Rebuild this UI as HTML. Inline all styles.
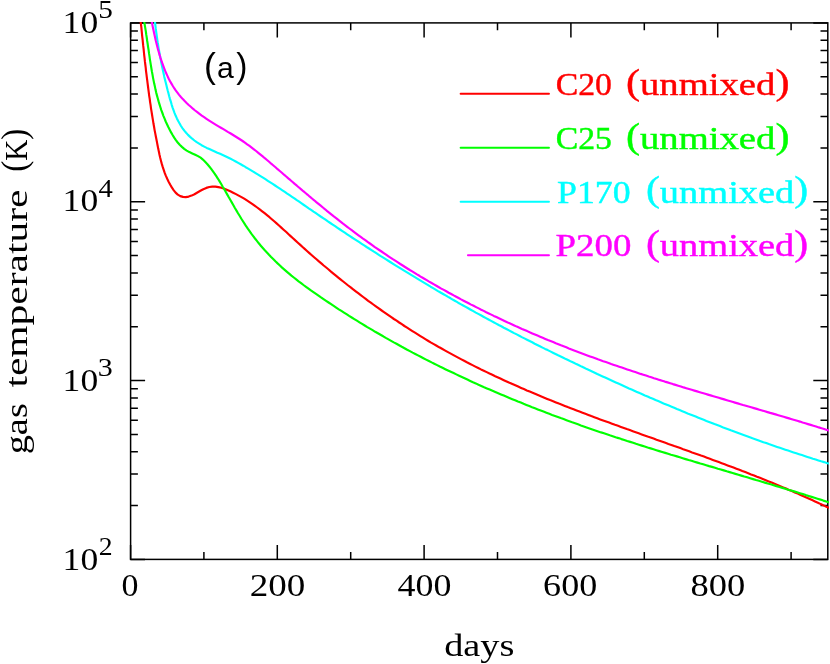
<!DOCTYPE html>
<html><head><meta charset="utf-8"><title>gas temperature vs days</title>
<style>
html,body{margin:0;padding:0;background:#fff;}
body{width:830px;height:664px;overflow:hidden;}
svg{display:block;will-change:transform;}
text{font-family:"Liberation Serif",serif;}
</style></head><body>
<svg width="830" height="664" viewBox="0 0 830 664">
<rect width="830" height="664" fill="#fff"/>
<defs><clipPath id="c"><rect x="129.8" y="22.1" width="699.1" height="538.0"/></clipPath></defs>
<path d="M130.6 559.4v-14.5M130.6 22.9v14.5M203.9 559.4v-7.3M203.9 22.9v7.3M277.3 559.4v-14.5M277.3 22.9v14.5M350.7 559.4v-7.3M350.7 22.9v7.3M424.1 559.4v-14.5M424.1 22.9v14.5M497.5 559.4v-7.3M497.5 22.9v7.3M570.9 559.4v-14.5M570.9 22.9v14.5M644.3 559.4v-7.3M644.3 22.9v7.3M717.7 559.4v-14.5M717.7 22.9v14.5M791.1 559.4v-7.3M791.1 22.9v7.3M130.6 559.4h14.5M827.8 559.4h-14.5M130.6 505.6h7.3M827.8 505.6h-7.3M130.6 474.1h7.3M827.8 474.1h-7.3M130.6 451.7h7.3M827.8 451.7h-7.3M130.6 434.4h7.3M827.8 434.4h-7.3M130.6 420.2h7.3M827.8 420.2h-7.3M130.6 408.3h7.3M827.8 408.3h-7.3M130.6 397.9h7.3M827.8 397.9h-7.3M130.6 388.7h7.3M827.8 388.7h-7.3M130.6 380.6h14.5M827.8 380.6h-14.5M130.6 326.7h7.3M827.8 326.7h-7.3M130.6 295.2h7.3M827.8 295.2h-7.3M130.6 272.9h7.3M827.8 272.9h-7.3M130.6 255.6h7.3M827.8 255.6h-7.3M130.6 241.4h7.3M827.8 241.4h-7.3M130.6 229.4h7.3M827.8 229.4h-7.3M130.6 219.1h7.3M827.8 219.1h-7.3M130.6 209.9h7.3M827.8 209.9h-7.3M130.6 201.7h14.5M827.8 201.7h-14.5M130.6 147.9h7.3M827.8 147.9h-7.3M130.6 116.4h7.3M827.8 116.4h-7.3M130.6 94.1h7.3M827.8 94.1h-7.3M130.6 76.7h7.3M827.8 76.7h-7.3M130.6 62.6h7.3M827.8 62.6h-7.3M130.6 50.6h7.3M827.8 50.6h-7.3M130.6 40.2h7.3M827.8 40.2h-7.3M130.6 31.1h7.3M827.8 31.1h-7.3M130.6 22.9h14.5M827.8 22.9h-14.5" stroke="#000" stroke-width="1.50" fill="none"/>
<rect x="130.6" y="22.9" width="697.2" height="536.5" fill="none" stroke="#000" stroke-width="1.50"/>
<g clip-path="url(#c)" fill="none" stroke-width="2.15" stroke-linejoin="round" stroke-linecap="butt">
<path stroke="#ff0000" d="M139.0 5.0 L139.4 8.1 L139.7 11.3 L140.0 14.4 L140.3 17.5 L140.6 20.7 L140.9 23.8 L141.3 26.9 L141.6 30.1 L141.9 33.2 L142.2 36.3 L142.6 39.5 L142.9 42.6 L143.2 45.7 L143.6 48.9 L143.9 52.0 L144.2 55.1 L144.6 58.3 L144.9 61.4 L145.3 64.5 L145.7 67.7 L146.0 70.8 L146.4 73.9 L146.8 77.1 L147.2 80.2 L147.6 83.3 L148.0 86.5 L148.4 89.6 L148.8 92.7 L149.2 95.8 L149.7 98.9 L150.1 102.1 L150.6 105.2 L151.0 108.3 L151.5 111.4 L152.0 114.5 L152.5 117.6 L153.0 120.7 L153.5 123.8 L154.1 127.0 L154.6 130.1 L155.2 133.1 L155.8 136.2 L156.4 139.3 L157.0 142.4 L157.6 145.5 L158.2 148.6 L158.9 151.7 L159.5 154.7 L160.2 157.8 L161.0 160.9 L161.8 163.9 L162.7 166.9 L163.7 169.9 L164.7 172.9 L165.9 175.9 L167.2 178.8 L168.6 181.7 L170.1 184.5 L171.8 187.4 L173.6 190.1 L175.6 192.6 L177.8 194.6 L180.3 196.1 L183.0 196.9 L185.8 197.1 L188.7 196.6 L191.6 195.6 L194.5 194.2 L197.4 192.5 L200.4 190.8 L203.3 189.2 L206.3 187.9 L209.3 187.0 L212.3 186.6 L215.4 186.6 L218.4 187.1 L221.4 187.8 L224.4 188.8 L227.3 190.0 L230.3 191.3 L233.1 192.7 L236.0 194.1 L238.7 195.6 L241.5 197.1 L244.2 198.7 L246.9 200.4 L249.5 202.1 L252.1 203.8 L254.6 205.6 L257.2 207.5 L259.7 209.4 L262.2 211.3 L264.6 213.2 L267.0 215.2 L269.5 217.2 L271.8 219.2 L274.2 221.3 L276.6 223.4 L279.0 225.5 L281.3 227.6 L283.6 229.7 L286.0 231.8 L288.3 234.0 L290.6 236.1 L293.0 238.2 L295.3 240.4 L297.6 242.5 L300.0 244.6 L302.3 246.8 L304.7 248.9 L307.0 251.0 L309.4 253.1 L311.8 255.2 L314.1 257.2 L316.5 259.3 L318.9 261.4 L321.3 263.4 L323.7 265.5 L326.2 267.5 L328.6 269.5 L331.0 271.6 L333.4 273.6 L335.9 275.6 L338.3 277.6 L340.8 279.6 L343.2 281.5 L345.7 283.5 L348.2 285.5 L350.7 287.4 L353.2 289.4 L355.7 291.3 L358.2 293.2 L360.7 295.1 L363.2 297.0 L365.7 298.9 L368.2 300.8 L370.8 302.6 L373.3 304.5 L375.9 306.4 L378.4 308.2 L381.0 310.0 L383.6 311.8 L386.2 313.6 L388.7 315.4 L391.3 317.2 L393.9 319.0 L396.6 320.7 L399.2 322.5 L401.8 324.2 L404.4 326.0 L407.1 327.7 L409.7 329.4 L412.4 331.1 L415.0 332.7 L417.7 334.4 L420.4 336.1 L423.0 337.7 L425.7 339.3 L428.4 341.0 L431.1 342.6 L433.8 344.1 L436.6 345.7 L439.3 347.3 L442.0 348.8 L444.8 350.4 L447.5 351.9 L450.3 353.4 L453.0 354.9 L455.8 356.4 L458.6 357.9 L461.4 359.4 L464.1 360.8 L466.9 362.3 L469.7 363.7 L472.5 365.1 L475.4 366.6 L478.2 368.0 L481.0 369.4 L483.8 370.7 L486.7 372.1 L489.5 373.5 L492.3 374.8 L495.2 376.2 L498.1 377.5 L500.9 378.8 L503.8 380.2 L506.6 381.5 L509.5 382.8 L512.4 384.0 L515.3 385.3 L518.2 386.6 L521.1 387.9 L523.9 389.1 L526.8 390.4 L529.7 391.6 L532.6 392.8 L535.6 394.1 L538.5 395.3 L541.4 396.5 L544.3 397.7 L547.2 398.9 L550.1 400.1 L553.1 401.2 L556.0 402.4 L558.9 403.6 L561.9 404.7 L564.8 405.9 L567.7 407.1 L570.7 408.2 L573.6 409.3 L576.6 410.5 L579.5 411.6 L582.5 412.7 L585.4 413.8 L588.4 414.9 L591.3 416.1 L594.3 417.2 L597.2 418.3 L600.2 419.4 L603.1 420.4 L606.1 421.5 L609.1 422.6 L612.0 423.7 L615.0 424.8 L618.0 425.8 L620.9 426.9 L623.9 428.0 L626.8 429.1 L629.8 430.1 L632.8 431.2 L635.7 432.2 L638.7 433.3 L641.7 434.4 L644.6 435.4 L647.6 436.5 L650.6 437.5 L653.6 438.6 L656.5 439.7 L659.5 440.7 L662.5 441.8 L665.4 442.8 L668.4 443.9 L671.4 444.9 L674.3 446.0 L677.3 447.0 L680.3 448.1 L683.2 449.2 L686.2 450.2 L689.2 451.3 L692.1 452.4 L695.1 453.4 L698.1 454.5 L701.0 455.6 L704.0 456.6 L706.9 457.7 L709.9 458.8 L712.8 459.9 L715.8 461.0 L718.8 462.1 L721.7 463.2 L724.7 464.3 L727.6 465.4 L730.6 466.5 L733.5 467.6 L736.4 468.7 L739.4 469.8 L742.3 471.0 L745.3 472.1 L748.2 473.2 L751.1 474.4 L754.1 475.5 L757.0 476.7 L759.9 477.8 L762.8 479.0 L765.8 480.2 L768.7 481.4 L771.6 482.6 L774.5 483.8 L777.4 485.0 L780.3 486.2 L783.2 487.4 L786.1 488.6 L789.0 489.9 L791.9 491.1 L794.8 492.4 L797.7 493.6 L800.6 494.9 L803.5 496.2 L806.4 497.5 L809.2 498.8 L812.1 500.1 L815.0 501.4 L817.9 502.7 L820.7 504.1 L823.6 505.4 L826.4 506.8 L829.3 508.1 L832.1 509.5 L835.0 510.9"/>
<path stroke="#00ff00" d="M140.9 5.2 L141.6 8.1 L142.2 11.0 L142.8 14.0 L143.4 16.9 L143.9 19.9 L144.4 22.9 L144.9 25.9 L145.4 28.9 L145.9 31.9 L146.3 34.9 L146.8 38.0 L147.2 41.0 L147.7 44.1 L148.1 47.1 L148.6 50.2 L149.0 53.2 L149.5 56.3 L149.9 59.3 L150.4 62.4 L150.9 65.4 L151.4 68.5 L151.9 71.5 L152.5 74.6 L153.0 77.6 L153.6 80.6 L154.2 83.6 L154.9 86.6 L155.5 89.6 L156.2 92.6 L157.0 95.6 L157.8 98.5 L158.6 101.4 L159.5 104.4 L160.4 107.3 L161.3 110.1 L162.4 113.0 L163.4 115.8 L164.6 118.7 L165.7 121.5 L167.0 124.2 L168.3 127.0 L169.7 129.7 L171.1 132.4 L172.6 135.0 L174.2 137.6 L175.9 140.1 L177.7 142.5 L179.7 144.8 L181.9 146.9 L184.2 148.9 L186.7 150.6 L189.4 152.1 L192.3 153.4 L195.2 154.7 L198.0 156.1 L200.6 157.7 L202.9 159.6 L205.1 161.8 L207.2 164.0 L209.1 166.3 L211.0 168.7 L212.8 171.2 L214.6 173.6 L216.3 176.2 L218.0 178.8 L219.6 181.4 L221.2 184.0 L222.7 186.7 L224.3 189.3 L225.8 192.0 L227.3 194.6 L228.8 197.3 L230.4 200.0 L231.9 202.6 L233.4 205.3 L234.9 208.0 L236.5 210.6 L238.0 213.2 L239.6 215.8 L241.2 218.5 L242.8 221.0 L244.5 223.6 L246.1 226.2 L247.8 228.7 L249.6 231.2 L251.3 233.7 L253.2 236.1 L255.0 238.5 L256.9 240.9 L258.8 243.3 L260.8 245.7 L262.8 248.0 L264.8 250.3 L266.9 252.5 L269.0 254.8 L271.1 257.0 L273.2 259.1 L275.4 261.3 L277.6 263.4 L279.9 265.5 L282.1 267.6 L284.4 269.6 L286.7 271.6 L289.1 273.6 L291.4 275.6 L293.8 277.5 L296.2 279.4 L298.6 281.3 L301.1 283.1 L303.5 285.0 L306.0 286.8 L308.5 288.6 L310.9 290.4 L313.4 292.1 L316.0 293.9 L318.5 295.6 L321.0 297.4 L323.5 299.1 L326.1 300.8 L328.6 302.5 L331.1 304.2 L333.7 305.9 L336.2 307.6 L338.8 309.3 L341.4 310.9 L344.0 312.6 L346.5 314.2 L349.1 315.9 L351.7 317.5 L354.3 319.1 L356.9 320.7 L359.5 322.3 L362.1 323.9 L364.7 325.5 L367.3 327.1 L370.0 328.6 L372.6 330.2 L375.2 331.8 L377.9 333.3 L380.5 334.8 L383.2 336.3 L385.8 337.9 L388.5 339.4 L391.1 340.9 L393.8 342.4 L396.5 343.8 L399.1 345.3 L401.8 346.8 L404.5 348.2 L407.2 349.7 L409.9 351.1 L412.6 352.6 L415.3 354.0 L418.0 355.4 L420.7 356.8 L423.4 358.2 L426.1 359.6 L428.9 361.0 L431.6 362.4 L434.3 363.7 L437.1 365.1 L439.8 366.5 L442.5 367.8 L445.3 369.2 L448.0 370.5 L450.8 371.8 L453.6 373.1 L456.3 374.4 L459.1 375.7 L461.9 377.0 L464.6 378.3 L467.4 379.6 L470.2 380.9 L473.0 382.2 L475.8 383.4 L478.5 384.7 L481.3 385.9 L484.1 387.2 L486.9 388.4 L489.7 389.6 L492.5 390.8 L495.3 392.0 L498.2 393.2 L501.0 394.4 L503.8 395.6 L506.6 396.8 L509.4 398.0 L512.3 399.2 L515.1 400.3 L517.9 401.5 L520.8 402.6 L523.6 403.8 L526.4 404.9 L529.3 406.0 L532.1 407.2 L535.0 408.3 L537.8 409.4 L540.7 410.5 L543.5 411.6 L546.4 412.7 L549.3 413.8 L552.1 414.9 L555.0 415.9 L557.9 417.0 L560.7 418.1 L563.6 419.1 L566.5 420.2 L569.3 421.2 L572.2 422.3 L575.1 423.3 L578.0 424.3 L580.9 425.4 L583.8 426.4 L586.6 427.4 L589.5 428.4 L592.4 429.4 L595.3 430.4 L598.2 431.4 L601.1 432.4 L604.0 433.3 L606.9 434.3 L609.8 435.3 L612.7 436.2 L615.6 437.2 L618.5 438.1 L621.4 439.1 L624.3 440.0 L627.2 441.0 L630.2 441.9 L633.1 442.8 L636.0 443.8 L638.9 444.7 L641.8 445.6 L644.7 446.5 L647.6 447.5 L650.6 448.4 L653.5 449.3 L656.4 450.2 L659.3 451.1 L662.2 452.0 L665.2 452.9 L668.1 453.8 L671.0 454.7 L673.9 455.5 L676.9 456.4 L679.8 457.3 L682.7 458.2 L685.6 459.1 L688.6 460.0 L691.5 460.8 L694.4 461.7 L697.4 462.6 L700.3 463.5 L703.2 464.3 L706.2 465.2 L709.1 466.1 L712.0 466.9 L715.0 467.8 L717.9 468.7 L720.8 469.5 L723.8 470.4 L726.7 471.3 L729.6 472.1 L732.6 473.0 L735.5 473.9 L738.4 474.7 L741.3 475.6 L744.3 476.5 L747.2 477.3 L750.1 478.2 L753.1 479.1 L756.0 480.0 L758.9 480.8 L761.9 481.7 L764.8 482.6 L767.7 483.5 L770.7 484.3 L773.6 485.2 L776.5 486.1 L779.5 487.0 L782.4 487.9 L785.3 488.8 L788.2 489.7 L791.2 490.5 L794.1 491.4 L797.0 492.3 L799.9 493.2 L802.9 494.1 L805.8 495.1 L808.7 496.0 L811.6 496.9 L814.5 497.8 L817.5 498.7 L820.4 499.6 L823.3 500.6 L826.2 501.5 L829.1 502.4 L832.0 503.4 L834.9 504.3"/>
<path stroke="#00ffff" d="M153.3 4.9 L153.6 7.9 L153.8 10.8 L154.1 13.7 L154.4 16.7 L154.7 19.6 L155.0 22.5 L155.4 25.3 L155.7 28.2 L156.1 31.1 L156.5 33.9 L156.9 36.8 L157.3 39.6 L157.7 42.5 L158.2 45.3 L158.6 48.1 L159.1 51.0 L159.6 53.8 L160.1 56.6 L160.7 59.4 L161.2 62.3 L161.8 65.1 L162.4 67.9 L163.0 70.7 L163.6 73.5 L164.2 76.4 L164.9 79.2 L165.6 82.0 L166.3 84.8 L167.0 87.7 L167.7 90.5 L168.5 93.4 L169.2 96.2 L170.0 99.1 L170.9 101.9 L171.7 104.8 L172.6 107.6 L173.6 110.3 L174.6 113.1 L175.7 115.8 L176.9 118.4 L178.2 121.0 L179.6 123.5 L181.0 126.0 L182.6 128.3 L184.3 130.6 L186.1 132.8 L188.0 134.9 L190.1 136.9 L192.2 138.7 L194.4 140.5 L196.7 142.2 L199.1 143.7 L201.6 145.2 L204.2 146.6 L206.7 147.9 L209.4 149.1 L212.0 150.3 L214.7 151.5 L217.4 152.7 L220.1 153.8 L222.7 155.0 L225.4 156.3 L228.0 157.5 L230.6 158.8 L233.2 160.1 L235.7 161.5 L238.2 162.9 L240.7 164.3 L243.2 165.7 L245.7 167.2 L248.2 168.6 L250.7 170.1 L253.2 171.6 L255.6 173.1 L258.1 174.6 L260.5 176.1 L263.0 177.7 L265.4 179.2 L267.8 180.8 L270.3 182.4 L272.7 183.9 L275.1 185.5 L277.5 187.1 L279.9 188.7 L282.4 190.3 L284.8 191.9 L287.2 193.6 L289.6 195.2 L292.0 196.8 L294.4 198.4 L296.8 200.1 L299.2 201.7 L301.6 203.4 L303.9 205.0 L306.3 206.6 L308.7 208.3 L311.1 209.9 L313.5 211.6 L315.9 213.2 L318.3 214.8 L320.7 216.5 L323.1 218.1 L325.5 219.7 L327.9 221.4 L330.3 223.0 L332.7 224.6 L335.1 226.2 L337.5 227.8 L340.0 229.5 L342.4 231.1 L344.8 232.7 L347.2 234.3 L349.6 235.9 L352.0 237.5 L354.5 239.1 L356.9 240.6 L359.3 242.2 L361.7 243.8 L364.2 245.4 L366.6 247.0 L369.0 248.5 L371.5 250.1 L373.9 251.7 L376.3 253.2 L378.8 254.8 L381.2 256.4 L383.7 257.9 L386.1 259.4 L388.6 261.0 L391.0 262.5 L393.5 264.1 L395.9 265.6 L398.4 267.1 L400.9 268.7 L403.3 270.2 L405.8 271.7 L408.3 273.2 L410.7 274.7 L413.2 276.2 L415.7 277.7 L418.1 279.2 L420.6 280.7 L423.1 282.2 L425.6 283.7 L428.1 285.2 L430.6 286.7 L433.1 288.1 L435.6 289.6 L438.0 291.1 L440.5 292.5 L443.1 294.0 L445.6 295.4 L448.1 296.9 L450.6 298.3 L453.1 299.8 L455.6 301.2 L458.1 302.7 L460.6 304.1 L463.2 305.5 L465.7 306.9 L468.2 308.3 L470.7 309.7 L473.3 311.1 L475.8 312.6 L478.3 313.9 L480.9 315.3 L483.4 316.7 L486.0 318.1 L488.5 319.5 L491.1 320.9 L493.6 322.2 L496.2 323.6 L498.7 325.0 L501.3 326.3 L503.8 327.7 L506.4 329.0 L509.0 330.4 L511.5 331.7 L514.1 333.1 L516.7 334.4 L519.3 335.7 L521.8 337.1 L524.4 338.4 L527.0 339.7 L529.6 341.0 L532.2 342.3 L534.7 343.7 L537.3 345.0 L539.9 346.3 L542.5 347.6 L545.1 348.9 L547.7 350.1 L550.3 351.4 L552.9 352.7 L555.5 354.0 L558.1 355.3 L560.7 356.5 L563.3 357.8 L565.9 359.1 L568.5 360.3 L571.1 361.6 L573.8 362.8 L576.4 364.1 L579.0 365.3 L581.6 366.6 L584.2 367.8 L586.8 369.1 L589.5 370.3 L592.1 371.5 L594.7 372.7 L597.3 374.0 L600.0 375.2 L602.6 376.4 L605.2 377.6 L607.9 378.8 L610.5 380.0 L613.1 381.2 L615.8 382.4 L618.4 383.6 L621.1 384.8 L623.7 386.0 L626.4 387.2 L629.0 388.4 L631.6 389.5 L634.3 390.7 L636.9 391.9 L639.6 393.1 L642.3 394.2 L644.9 395.4 L647.6 396.5 L650.2 397.7 L652.9 398.8 L655.5 400.0 L658.2 401.1 L660.9 402.2 L663.5 403.4 L666.2 404.5 L668.9 405.6 L671.6 406.7 L674.2 407.8 L676.9 409.0 L679.6 410.1 L682.3 411.2 L684.9 412.3 L687.6 413.4 L690.3 414.4 L693.0 415.5 L695.7 416.6 L698.4 417.7 L701.1 418.8 L703.7 419.8 L706.4 420.9 L709.1 421.9 L711.8 423.0 L714.5 424.1 L717.2 425.1 L719.9 426.1 L722.6 427.2 L725.3 428.2 L728.1 429.2 L730.8 430.3 L733.5 431.3 L736.2 432.3 L738.9 433.3 L741.6 434.3 L744.3 435.3 L747.1 436.3 L749.8 437.3 L752.5 438.3 L755.2 439.2 L758.0 440.2 L760.7 441.2 L763.4 442.2 L766.2 443.1 L768.9 444.1 L771.6 445.0 L774.4 446.0 L777.1 446.9 L779.8 447.8 L782.6 448.8 L785.3 449.7 L788.1 450.6 L790.8 451.5 L793.6 452.4 L796.3 453.3 L799.1 454.2 L801.9 455.1 L804.6 456.0 L807.4 456.9 L810.1 457.8 L812.9 458.7 L815.7 459.5 L818.4 460.4 L821.2 461.3 L824.0 462.1 L826.8 463.0 L829.5 463.8 L832.3 464.6 L835.1 465.5"/>
<path stroke="#ff00ff" d="M148.4 5.1 L148.9 7.8 L149.5 10.5 L150.0 13.2 L150.6 15.9 L151.1 18.6 L151.7 21.4 L152.2 24.1 L152.8 26.9 L153.4 29.7 L154.0 32.5 L154.6 35.2 L155.2 38.0 L155.8 40.8 L156.5 43.6 L157.2 46.3 L157.9 49.1 L158.7 51.8 L159.5 54.6 L160.3 57.3 L161.2 60.0 L162.1 62.7 L163.1 65.4 L164.1 68.1 L165.1 70.7 L166.2 73.3 L167.4 75.9 L168.6 78.5 L169.9 80.9 L171.3 83.4 L172.7 85.8 L174.2 88.2 L175.7 90.4 L177.4 92.7 L179.1 94.9 L180.9 97.0 L182.8 99.1 L184.7 101.1 L186.6 103.0 L188.7 105.0 L190.8 106.8 L192.9 108.7 L195.1 110.5 L197.3 112.2 L199.5 113.9 L201.8 115.6 L204.1 117.2 L206.5 118.8 L208.8 120.3 L211.2 121.8 L213.6 123.3 L216.0 124.8 L218.5 126.3 L220.9 127.7 L223.4 129.2 L225.8 130.6 L228.2 132.1 L230.7 133.5 L233.1 135.0 L235.5 136.5 L237.9 138.0 L240.3 139.5 L242.6 141.0 L244.9 142.6 L247.2 144.3 L249.5 145.9 L251.7 147.6 L253.9 149.3 L256.1 151.0 L258.3 152.8 L260.5 154.6 L262.7 156.4 L264.8 158.2 L267.0 160.0 L269.1 161.8 L271.2 163.7 L273.4 165.5 L275.5 167.3 L277.6 169.2 L279.8 171.0 L281.9 172.8 L284.0 174.7 L286.2 176.5 L288.3 178.4 L290.5 180.2 L292.6 182.0 L294.7 183.9 L296.9 185.7 L299.0 187.5 L301.2 189.4 L303.3 191.2 L305.5 193.0 L307.7 194.8 L309.8 196.7 L312.0 198.5 L314.2 200.3 L316.3 202.1 L318.5 203.9 L320.7 205.7 L322.9 207.5 L325.1 209.3 L327.2 211.1 L329.4 212.8 L331.6 214.6 L333.8 216.4 L336.1 218.1 L338.3 219.9 L340.5 221.6 L342.7 223.4 L345.0 225.1 L347.2 226.8 L349.4 228.5 L351.7 230.2 L353.9 231.9 L356.2 233.6 L358.5 235.3 L360.7 236.9 L363.0 238.6 L365.3 240.2 L367.6 241.9 L369.9 243.5 L372.2 245.1 L374.5 246.8 L376.8 248.4 L379.2 250.0 L381.5 251.5 L383.8 253.1 L386.1 254.7 L388.5 256.3 L390.8 257.8 L393.2 259.4 L395.6 260.9 L397.9 262.4 L400.3 264.0 L402.7 265.5 L405.0 267.0 L407.4 268.5 L409.8 270.0 L412.2 271.4 L414.6 272.9 L417.0 274.4 L419.4 275.8 L421.8 277.3 L424.3 278.7 L426.7 280.1 L429.1 281.6 L431.6 283.0 L434.0 284.4 L436.4 285.8 L438.9 287.2 L441.3 288.6 L443.8 289.9 L446.3 291.3 L448.7 292.7 L451.2 294.0 L453.7 295.4 L456.2 296.7 L458.6 298.0 L461.1 299.4 L463.6 300.7 L466.1 302.0 L468.6 303.3 L471.1 304.6 L473.6 305.8 L476.1 307.1 L478.7 308.4 L481.2 309.7 L483.7 310.9 L486.2 312.2 L488.8 313.4 L491.3 314.6 L493.8 315.9 L496.4 317.1 L498.9 318.3 L501.5 319.5 L504.0 320.7 L506.6 321.9 L509.1 323.1 L511.7 324.2 L514.3 325.4 L516.8 326.6 L519.4 327.7 L522.0 328.9 L524.6 330.0 L527.2 331.1 L529.7 332.3 L532.3 333.4 L534.9 334.5 L537.5 335.6 L540.1 336.7 L542.7 337.8 L545.3 338.9 L547.9 340.0 L550.5 341.0 L553.2 342.1 L555.8 343.2 L558.4 344.2 L561.0 345.3 L563.6 346.3 L566.3 347.3 L568.9 348.4 L571.5 349.4 L574.1 350.4 L576.8 351.4 L579.4 352.4 L582.1 353.4 L584.7 354.4 L587.3 355.4 L590.0 356.4 L592.6 357.3 L595.3 358.3 L597.9 359.3 L600.6 360.2 L603.2 361.2 L605.9 362.1 L608.6 363.0 L611.2 364.0 L613.9 364.9 L616.6 365.8 L619.2 366.7 L621.9 367.6 L624.6 368.5 L627.2 369.4 L629.9 370.3 L632.6 371.2 L635.3 372.1 L637.9 373.0 L640.6 373.9 L643.3 374.7 L646.0 375.6 L648.7 376.5 L651.3 377.3 L654.0 378.2 L656.7 379.0 L659.4 379.9 L662.1 380.7 L664.8 381.6 L667.5 382.4 L670.2 383.2 L672.9 384.1 L675.5 384.9 L678.2 385.7 L680.9 386.5 L683.6 387.4 L686.3 388.2 L689.0 389.0 L691.7 389.8 L694.4 390.6 L697.1 391.4 L699.8 392.2 L702.5 393.0 L705.2 393.8 L707.9 394.6 L710.6 395.4 L713.4 396.2 L716.1 397.0 L718.8 397.8 L721.5 398.6 L724.2 399.4 L726.9 400.2 L729.6 401.0 L732.3 401.8 L735.0 402.6 L737.7 403.4 L740.4 404.2 L743.1 405.0 L745.8 405.7 L748.5 406.5 L751.2 407.3 L754.0 408.1 L756.7 408.9 L759.4 409.7 L762.1 410.5 L764.8 411.3 L767.5 412.1 L770.2 412.9 L772.9 413.6 L775.6 414.4 L778.3 415.2 L781.0 416.0 L783.7 416.8 L786.4 417.6 L789.1 418.4 L791.8 419.2 L794.5 420.0 L797.2 420.8 L799.9 421.6 L802.6 422.5 L805.3 423.3 L808.0 424.1 L810.7 424.9 L813.4 425.7 L816.1 426.5 L818.8 427.4 L821.5 428.2 L824.2 429.0 L826.9 429.9 L829.6 430.7 L832.3 431.5 L835.0 432.4"/>
</g>
<path d="M460.6 93.7H549.0" stroke="#ff0000" stroke-width="1.90" stroke-linecap="round"/>
<path d="M460.6 147.8H549.0" stroke="#00ff00" stroke-width="1.90" stroke-linecap="round"/>
<path d="M460.6 201.7H549.0" stroke="#00ffff" stroke-width="1.90" stroke-linecap="round"/>
<path d="M467.9 255.2H549.0" stroke="#ff00ff" stroke-width="1.90" stroke-linecap="round"/>
<text><tspan x="62.60" y="33.20" font-size="32.02" textLength="35.57" lengthAdjust="spacingAndGlyphs">10</tspan><tspan x="98.30" y="18.20" font-size="25.22" textLength="14.63" lengthAdjust="spacingAndGlyphs">5</tspan></text>
<text><tspan x="62.60" y="211.37" font-size="32.02" textLength="35.57" lengthAdjust="spacingAndGlyphs">10</tspan><tspan x="98.50" y="197.27" font-size="24.35" textLength="14.29" lengthAdjust="spacingAndGlyphs">4</tspan></text>
<text><tspan x="62.60" y="390.53" font-size="32.02" textLength="35.57" lengthAdjust="spacingAndGlyphs">10</tspan><tspan x="97.80" y="375.83" font-size="25.70" textLength="15.01" lengthAdjust="spacingAndGlyphs">3</tspan></text>
<text><tspan x="62.60" y="569.70" font-size="32.02" textLength="35.57" lengthAdjust="spacingAndGlyphs">10</tspan><tspan x="98.80" y="555.20" font-size="25.22" textLength="13.85" lengthAdjust="spacingAndGlyphs">2</tspan></text>
<text><tspan x="121.55" y="596.00" font-size="32.47" textLength="16.96" lengthAdjust="spacingAndGlyphs">0</tspan></text>
<text><tspan x="249.80" y="596.00" font-size="32.47" textLength="55.59" lengthAdjust="spacingAndGlyphs">200</tspan></text>
<text><tspan x="397.50" y="596.00" font-size="32.47" textLength="53.82" lengthAdjust="spacingAndGlyphs">400</tspan></text>
<text><tspan x="543.10" y="596.00" font-size="32.47" textLength="54.10" lengthAdjust="spacingAndGlyphs">600</tspan></text>
<text><tspan x="690.40" y="596.00" font-size="32.47" textLength="54.74" lengthAdjust="spacingAndGlyphs">800</tspan></text>
<text><tspan x="444.20" y="655.60" font-size="31.00" textLength="70.28" lengthAdjust="spacingAndGlyphs">days</tspan></text>
<text fill="#ff0000" stroke="#ff0000" stroke-width="0.4"><tspan x="555.70" y="95.20" font-size="32.00" textLength="56.32" lengthAdjust="spacingAndGlyphs">C20</tspan> <tspan x="625.90" y="95.20" font-size="32.00" textLength="163.59" lengthAdjust="spacingAndGlyphs"><tspan font-size="35" dy="-1.5">(</tspan><tspan dy="1.5">unmixed</tspan><tspan font-size="35" dy="-1.5">)</tspan></tspan></text>
<text fill="#00ff00" stroke="#00ff00" stroke-width="0.4"><tspan x="555.70" y="149.10" font-size="32.00" textLength="56.30" lengthAdjust="spacingAndGlyphs">C25</tspan> <tspan x="625.90" y="149.10" font-size="32.00" textLength="163.59" lengthAdjust="spacingAndGlyphs"><tspan font-size="35" dy="-1.5">(</tspan><tspan dy="1.5">unmixed</tspan><tspan font-size="35" dy="-1.5">)</tspan></tspan></text>
<text fill="#00ffff" stroke="#00ffff" stroke-width="0.4"><tspan x="557.00" y="202.70" font-size="32.00" textLength="73.56" lengthAdjust="spacingAndGlyphs">P170</tspan> <tspan x="645.90" y="202.70" font-size="32.00" textLength="162.38" lengthAdjust="spacingAndGlyphs"><tspan font-size="35" dy="-1.5">(</tspan><tspan dy="1.5">unmixed</tspan><tspan font-size="35" dy="-1.5">)</tspan></tspan></text>
<text fill="#ff00ff" stroke="#ff00ff" stroke-width="0.4"><tspan x="555.60" y="256.40" font-size="32.00" textLength="75.83" lengthAdjust="spacingAndGlyphs">P200</tspan> <tspan x="645.90" y="256.40" font-size="32.00" textLength="162.38" lengthAdjust="spacingAndGlyphs"><tspan font-size="35" dy="-1.5">(</tspan><tspan dy="1.5">unmixed</tspan><tspan font-size="35" dy="-1.5">)</tspan></tspan></text>
<text><tspan x="204.00" y="77.50" font-size="35.13" textLength="11.89" lengthAdjust="spacingAndGlyphs" style="font-family:'Liberation Sans',sans-serif">(</tspan><tspan x="217.10" y="78.30" font-size="29.66" textLength="16.74" lengthAdjust="spacingAndGlyphs" style="font-family:'Liberation Sans',sans-serif">a</tspan><tspan x="236.30" y="77.50" font-size="35.13" textLength="11.19" lengthAdjust="spacingAndGlyphs" style="font-family:'Liberation Sans',sans-serif">)</tspan></text>
<g transform="translate(26.75 452.90) rotate(-90)">
<text><tspan x="-1.40" y="0.00" font-size="31.00" textLength="51.09" lengthAdjust="spacingAndGlyphs">gas</tspan> <tspan x="65.30" y="0.00" font-size="31.00" textLength="198.12" lengthAdjust="spacingAndGlyphs">temperature</tspan> <tspan x="281.10" y="0.00" font-size="31.00" textLength="43.16" lengthAdjust="spacingAndGlyphs"><tspan font-size="35" dy="-0.5">(</tspan><tspan dy="0.5">K</tspan><tspan font-size="35" dy="-0.5">)</tspan></tspan></text>
</g>
</svg>
</body></html>
